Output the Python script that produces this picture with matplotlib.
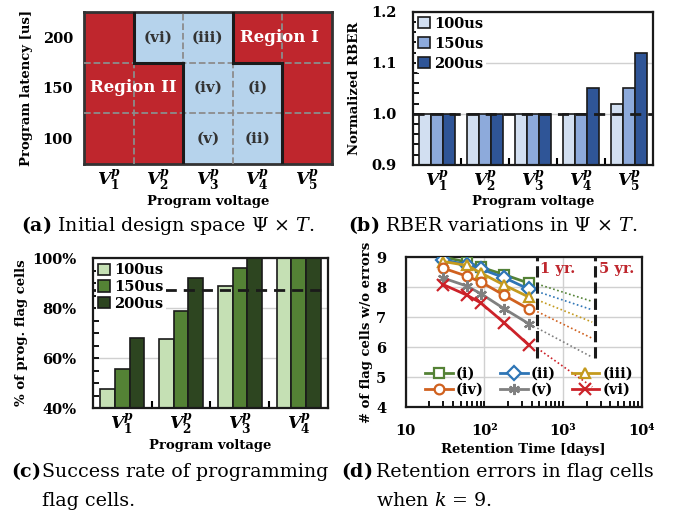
import numpy as np
import matplotlib
matplotlib.use('agg')
from matplotlib import pyplot as plt
from matplotlib.colors import ListedColormap
from matplotlib.ticker import MultipleLocator, FixedLocator, NullFormatter, LogLocator

plt.rcParams['font.family'] = 'DejaVu Serif'
plt.rcParams['font.weight'] = 'bold'
plt.rcParams['axes.labelweight'] = 'bold'
plt.rcParams['mathtext.fontset'] = 'custom'
plt.rcParams['mathtext.rm'] = 'DejaVu Serif:normal'
plt.rcParams['mathtext.it'] = 'DejaVu Serif:italic:normal'
plt.rcParams['mathtext.bf'] = 'DejaVu Serif:bold'
plt.rcParams['mathtext.bfit'] = 'DejaVu Serif:italic:bold'
plt.rcParams['mathtext.sf'] = 'DejaVu Serif:bold'

# ---- data ----
latencies = ['100', '150', '200']
# 0 = red (region I / II), 1 = blue candidate cell; rows: 100, 150, 200 us
region_map = [[0, 0, 1, 1, 0],
              [0, 0, 1, 1, 0],
              [0, 1, 1, 0, 0]]
cell_labels = {'(v)': (2, 0), '(ii)': (3, 0),
               '(iv)': (2, 1), '(i)': (3, 1),
               '(vi)': (1, 2), '(iii)': (2, 2)}

series = ['100us', '150us', '200us']
rber_100 = [1.0, 1.0, 1.0, 1.0, 1.02]
rber_150 = [1.0, 1.0, 1.0, 1.0, 1.05]
rber_200 = [1.0, 1.0, 1.0, 1.05, 1.12]

flag_100 = [47.6, 67.7, 89.0, 100]
flag_150 = [55.7, 79.0, 96.0, 100]
flag_200 = [68.0, 92.0, 100, 100]
flag_target = 87.3

days = [30, 60, 90, 180, 365]
ret = {
    '(i)':   [9.0, 8.83, 8.66, 8.41, 8.13],
    '(ii)':  [8.91, 8.74, 8.6, 8.31, 7.93],
    '(iii)': [8.85, 8.72, 8.47, 8.06, 7.67],
    '(iv)':  [8.63, 8.36, 8.17, 7.72, 7.27],
    '(v)':   [8.3, 8.03, 7.78, 7.27, 6.78],
    '(vi)':  [8.08, 7.73, 7.47, 6.8, 6.07],
}
ext_days = [470, 2350]
ret_ext = {
    '(i)':   [8.10, 7.52],
    '(ii)':  [7.85, 7.24],
    '(iii)': [7.57, 6.83],
    '(iv)':  [7.18, 6.29],
    '(v)':   [6.63, 5.66],
    '(vi)':  [5.96, 4.67],
}
year_days = [460, 2540]
year_labels = ['1 yr.', '5 yr.']


def vlabel(i):
    return r'$\mathbfit{V}^{\mathbfit{p}}_{\mathsf{%d}}$' % i


RED = '#BF262D'
LBLUE = '#B6D3EC'
blues = ['#D2DFF1', '#8DAADB', '#2F5597']
greens = ['#C5E0B4', '#548235', '#2D4520']
line_cols = {'(i)': '#548235', '(ii)': '#2E75B6', '(iii)': '#C49A1E',
             '(iv)': '#D0611F', '(v)': '#808080', '(vi)': '#CC2229'}
line_mk = {'(i)': 's', '(ii)': 'D', '(iii)': '^', '(iv)': 'o',
           '(v)': (6, 2, 0), '(vi)': 'x'}

fig = plt.figure(figsize=(6.77, 5.12), dpi=100)

# ---- (a) design space ----
ax = fig.add_axes([0.124, 0.6797, 0.366, 0.297])
grid = np.array(region_map)
ax.imshow(grid, cmap=ListedColormap([RED, LBLUE]), origin='lower',
          extent=(-0.5, 4.5, -0.5, 2.5), aspect='auto')
ax.set_xticks(range(5))
ax.set_xticklabels([vlabel(i + 1) for i in range(5)], fontsize=12.5)
ax.set_yticks(range(3))
ax.set_yticklabels(latencies, fontsize=10.5)
ax.set_xticks(np.arange(0.5, 4, 1), minor=True)
ax.set_yticks(np.arange(0.5, 2, 1), minor=True)
ax.tick_params(which='both', length=0)
ax.tick_params(axis='y', pad=8)
ax.tick_params(axis='x', pad=3)
ax.grid(which='minor', color='#8c8c8c', ls='--', lw=1.3)
ax.set_axisbelow(False)
nr, nc = grid.shape
for r in range(nr):
    for c in range(nc):
        if c + 1 < nc and grid[r, c] != grid[r, c + 1]:
            ax.plot([c + 0.5, c + 0.5], [r - 0.5, r + 0.5], color='#1a1a1a', lw=2.2, zorder=3,
                    solid_capstyle='projecting')
        if r + 1 < nr and grid[r, c] != grid[r + 1, c]:
            ax.plot([c - 0.5, c + 0.5], [r + 0.5, r + 0.5], color='#1a1a1a', lw=2.2, zorder=3,
                    solid_capstyle='projecting')
for lab, (c, r) in cell_labels.items():
    ax.text(c, r, lab, ha='center', va='center', fontsize=11, color='#333333')
ax.text(3.45, 2, 'Region I', ha='center', va='center', fontsize=12, color='white')
ax.text(0.5, 1, 'Region II', ha='center', va='center', fontsize=12, color='white')
for s in ax.spines.values():
    s.set_color('#333333')
    s.set_linewidth(2)
ax.set_xlim(-0.5, 4.5)
ax.set_ylim(-0.5, 2.5)
ax.set_xlabel('Program voltage', fontsize=9.5, labelpad=1)
ax.set_ylabel('Program latency [us]', fontsize=9.5, labelpad=7)


def bar_panel(rect, vals, cols, ncat, ylim, major, minor, base_line, fmt):
    ax = fig.add_axes(rect)
    x = np.arange(ncat)
    w = 0.25
    for k, (v, col) in enumerate(zip(vals, cols)):
        ax.bar(x + (k - 1) * w, v, w * 0.94 if ncat == 5 else w, color=col,
               edgecolor='#1a1a1a', linewidth=1.2, label=series[k], zorder=2)
    ax.axhline(base_line, color='#1a1a1a', ls='--', lw=2, zorder=3, dashes=(4, 2.5))
    ax.set_xlim(-0.5, ncat - 0.5)
    ax.set_ylim(*ylim)
    ax.set_xticks(x)
    ax.set_xticklabels([vlabel(i + 1) for i in range(ncat)], fontsize=12.5)
    ax.set_xticks(np.arange(0.5, ncat - 1, 1), minor=True)
    ax.yaxis.set_major_locator(MultipleLocator(major))
    ax.yaxis.set_minor_locator(MultipleLocator(minor))
    ax.yaxis.set_major_formatter(fmt)
    ax.tick_params(axis='x', which='major', length=0, pad=3)
    ax.tick_params(axis='x', which='minor', length=5, width=1.5, direction='in')
    ax.tick_params(axis='y', which='both', direction='in', length=4, width=1.3,
                   labelsize=10.5, pad=12)
    ax.grid(axis='y', which='major', color='#d0d0d0', lw=1)
    ax.set_axisbelow(True)
    for s in ax.spines.values():
        s.set_linewidth(1.6)
        s.set_color('#1a1a1a')
    leg = ax.legend(loc='upper left', fontsize=10.5, frameon=True, framealpha=1,
                    edgecolor='none', facecolor='white', handlelength=0.8,
                    handleheight=0.8, handletextpad=0.3, borderpad=0.15,
                    labelspacing=0.4 if ncat == 5 else 0.2, borderaxespad=0.2)
    leg.set_zorder(4)
    ax.set_xlabel('Program voltage', fontsize=9.5, labelpad=1)
    return ax


# ---- (b) RBER ----
axb = bar_panel([0.610, 0.678, 0.3545, 0.299], [rber_100, rber_150, rber_200], blues, 5,
                (0.9, 1.2), 0.1, 0.02, 1.0, lambda v, p: f'{v:.1f}')
axb.set_ylabel('Normalized RBER', fontsize=9.5, labelpad=7)

# ---- (c) flag programming ----
axc = bar_panel([0.1374, 0.203, 0.347, 0.293], [flag_100, flag_150, flag_200], greens, 4,
                (40, 100), 20, 5, flag_target, lambda v, p: f'{v:.0f}%')
axc.set_ylabel('% of prog. flag cells', fontsize=9.5, labelpad=3)

# ---- (d) retention ----
axd = fig.add_axes([0.5993, 0.205, 0.3486, 0.293])
handles = {}
for name, vals in ret.items():
    col = line_cols[name]
    ms = 8 if name in ('(v)', '(vi)') else 7
    h, = axd.plot(days, vals, color=col, lw=2, marker=line_mk[name], ms=ms,
                  mfc='white' if name not in ('(v)', '(vi)') else col,
                  mec=col, mew=1.6, label=name, zorder=3)
    handles[name] = h
    axd.plot(ext_days, ret_ext[name], color=col, ls=(0, (1, 1.5)), lw=1.2, zorder=2)
for d, lab in zip(year_days, year_labels):
    axd.vlines(d, 5.65, 9, color='#1a1a1a', ls='--', lw=2.2, zorder=4)
    axd.text(d * 1.12, 8.6, lab, color=RED, fontsize=10.5, ha='left', va='center')
axd.set_xscale('log')
axd.set_xlim(10, 1e4)
axd.set_ylim(4, 9)
axd.xaxis.set_major_locator(FixedLocator([10, 100, 1000, 10000]))
axd.set_xticklabels(['10', '10²', '10³', '10⁴'], fontsize=10.5)
axd.xaxis.set_minor_locator(LogLocator(base=10, subs=np.arange(2, 10)))
axd.xaxis.set_minor_formatter(NullFormatter())
axd.tick_params(axis='x', which='both', direction='in', length=4, width=1.3, pad=12)
axd.tick_params(axis='y', length=0, labelsize=10.5, pad=14)
axd.grid(which='major', color='#d0d0d0', lw=1)
for s in axd.spines.values():
    s.set_linewidth(1.6)
    s.set_color('#1a1a1a')
order = ['(i)', '(iv)', '(ii)', '(v)', '(iii)', '(vi)']
axd.legend([handles[n] for n in order], order, ncol=3, loc='lower left',
           bbox_to_anchor=(0.04, 0.0), fontsize=10.5, frameon=False, handlelength=1.9,
           handletextpad=0.2, columnspacing=1.1, labelspacing=0.15, borderaxespad=0.3)
axd.set_xlabel('Retention Time [days]', fontsize=9.5, labelpad=4)
axd.set_ylabel('# of flag cells w/o errors', fontsize=9.5, labelpad=2)

# ---- captions ----
cap = dict(fontweight='normal', fontsize=13.7, va='baseline')
fig.text(0.248, 1 - 231 / 512, r'$\mathbf{(a)}$ Initial design space Ψ × $T$.', ha='center', **cap)
fig.text(0.728, 1 - 231 / 512, r'$\mathbf{(b)}$ RBER variations in Ψ × $T$.', ha='center', **cap)
fig.text(11 / 677, 1 - 477 / 512, r'$\mathbf{(c)}$', ha='left', **cap)
fig.text(42 / 677, 1 - 477 / 512, 'Success rate of programming', ha='left', **cap)
fig.text(42 / 677, 1 - 506 / 512, 'flag cells.', ha='left', **cap)
fig.text(341 / 677, 1 - 477 / 512, r'$\mathbf{(d)}$', ha='left', **cap)
fig.text(376 / 677, 1 - 477 / 512, 'Retention errors in flag cells', ha='left', **cap)
fig.text(376 / 677, 1 - 506 / 512, 'when $k$ = 9.', ha='left', **cap)

fig.savefig('out.png', dpi=100)
